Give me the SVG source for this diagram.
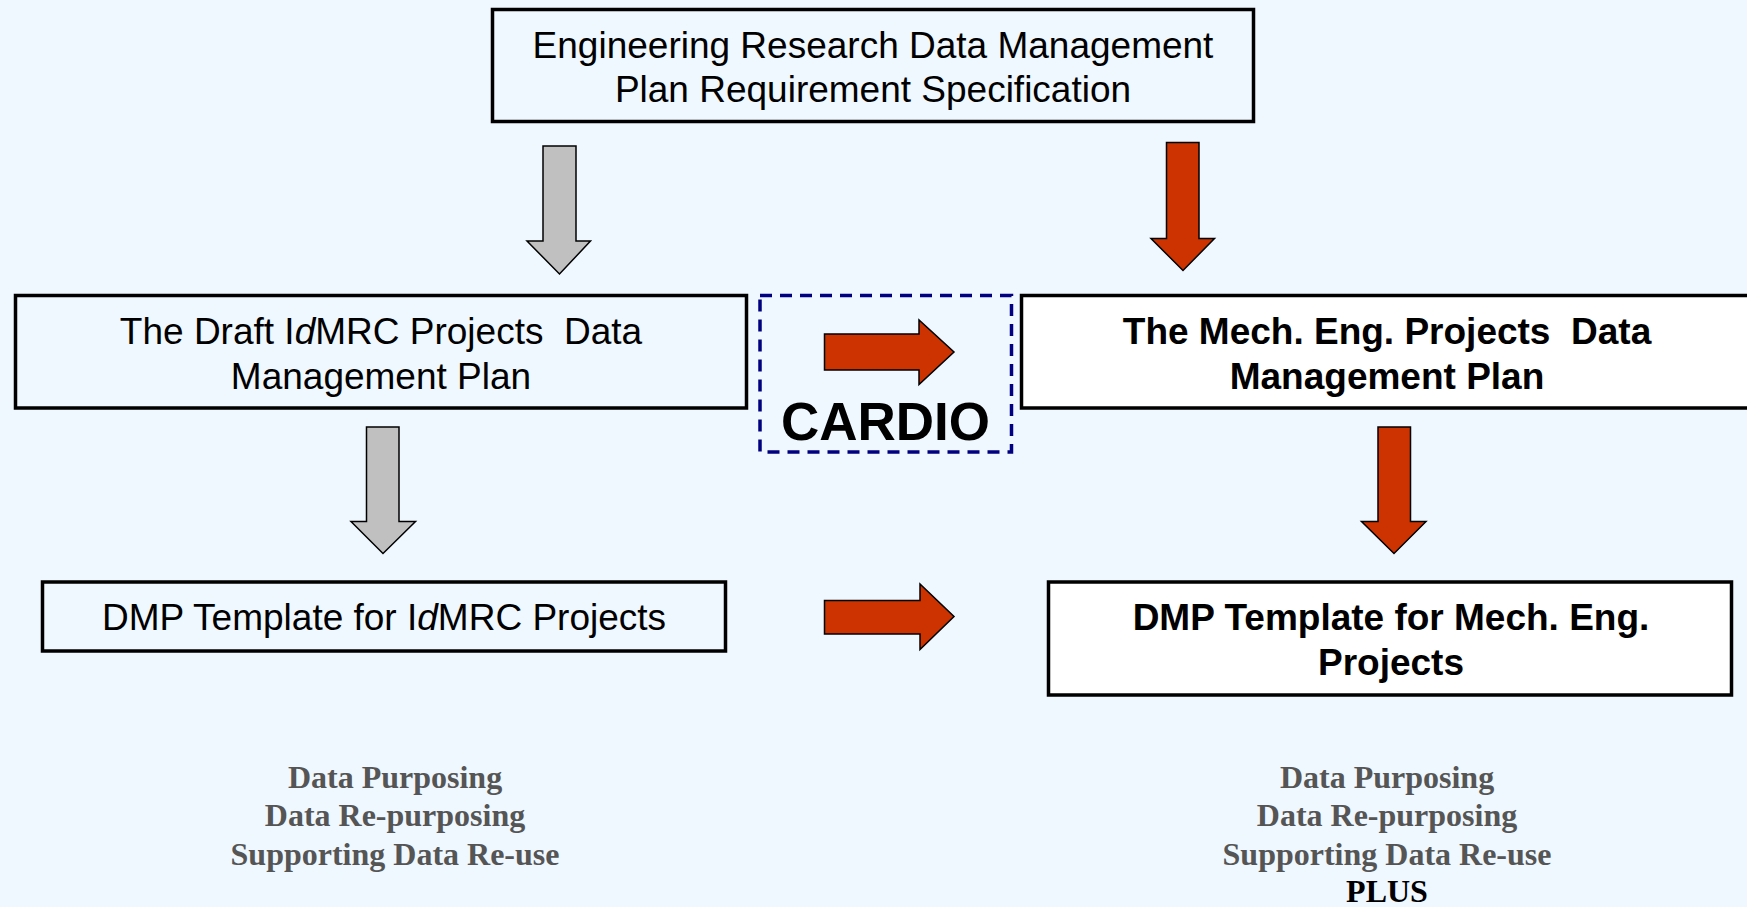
<svg xmlns="http://www.w3.org/2000/svg" width="1747" height="907" viewBox="0 0 1747 907">
<style>
.box{fill:#EFF7FF;stroke:#000;stroke-width:3.5}
.wbox{fill:#FFFFFF;stroke:#000;stroke-width:3.5}
.t{font-family:"Liberation Sans",Arial,sans-serif;font-size:37px;fill:#000;text-anchor:middle;white-space:pre}
.b{font-weight:bold}
.g{fill:#C0C0C0;stroke:#000;stroke-width:1.5;stroke-linejoin:miter}
.r{fill:#CC3300;stroke:#000;stroke-width:1.5;stroke-linejoin:miter}
.s{font-family:"Liberation Serif","Times New Roman",serif;font-weight:bold;font-size:32px;fill:#555555;text-anchor:middle}
</style>
<rect x="0" y="0" width="1747" height="907" fill="#EFF7FF"/>

<g id="node-spec">
<rect class="box" x="492.5" y="9.5" width="761" height="112"/>
<text class="t" x="873" y="57.5">Engineering Research Data Management</text>
<text class="t" x="873" y="102">Plan Requirement Specification</text>
</g>

<g id="node-draft-dmp">
<rect class="box" x="15.5" y="295.5" width="731" height="112.5"/>
<text class="t" x="381" y="344">The Draft I<tspan font-style="italic">d</tspan>MRC Projects  Data</text>
<text class="t" x="381" y="388.5">Management Plan</text>
</g>

<g id="node-cardio">
<rect x="760" y="295.5" width="251.5" height="156.5" fill="none" stroke="#000080" stroke-width="3.5" stroke-dasharray="12,8"/>
<text class="t b" x="885.5" y="440" font-size="53" style="font-size:53px">CARDIO</text>
</g>

<g id="node-mech-dmp">
<rect class="wbox" x="1021.5" y="295.5" width="735" height="112.5"/>
<text class="t b" x="1387" y="344">The Mech. Eng. Projects  Data</text>
<text class="t b" x="1387" y="388.5">Management Plan</text>
</g>

<g id="node-idmrc-template">
<rect class="box" x="42.5" y="582" width="683" height="69"/>
<text class="t" x="384" y="630">DMP Template for I<tspan font-style="italic">d</tspan>MRC Projects</text>
</g>

<g id="node-mech-template">
<rect class="wbox" x="1048.5" y="582" width="683" height="113"/>
<text class="t b" x="1391" y="630">DMP Template for Mech. Eng.</text>
<text class="t b" x="1391" y="675">Projects</text>
</g>

<g id="node-left-notes">
<text class="s" x="395" y="788">Data Purposing</text>
<text class="s" x="395" y="826">Data Re-purposing</text>
<text class="s" x="395" y="865">Supporting Data Re-use</text>
</g>

<g id="node-right-notes">
<text class="s" x="1387" y="788">Data Purposing</text>
<text class="s" x="1387" y="826">Data Re-purposing</text>
<text class="s" x="1387" y="865">Supporting Data Re-use</text>
<text class="s" x="1387" y="902" style="fill:#000">PLUS</text>
</g>

<g id="connectors">
<polygon class="g" points="543,146 576,146 576,241 590.5,241 559.5,274 527,241 543,241"/>
<polygon class="r" points="1166.5,142.5 1199,142.5 1199,238.5 1214.5,238.5 1183,270.5 1151,238.5 1166.5,238.5"/>
<polygon class="g" points="366.5,427 399,427 399,521.5 415.5,521.5 383,553.5 351,521.5 366.5,521.5"/>
<polygon class="r" points="1378,427 1410.5,427 1410.5,521.5 1426,521.5 1394,553.5 1361.5,521.5 1378,521.5"/>
<polygon class="r" points="824.5,334 919,334 919,320 954,352 919,384.5 919,370 824.5,370"/>
<polygon class="r" points="824.5,600.5 920,600.5 920,584 954,616.5 920,649.5 920,634 824.5,634"/>
</g>
</svg>
